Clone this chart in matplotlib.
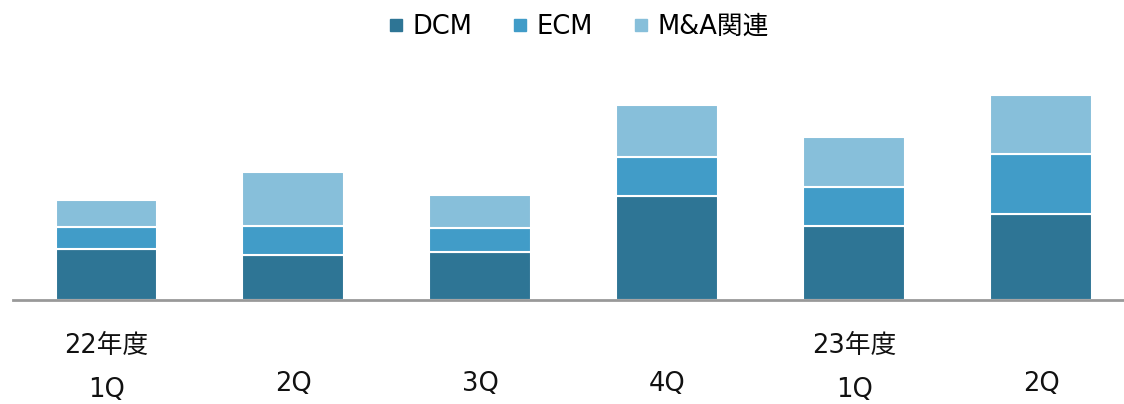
import matplotlib.pyplot as plt
from matplotlib.lines import Line2D
from matplotlib.transforms import blended_transform_factory

plt.rcParams['font.family'] = ['DejaVu Sans', 'Noto Sans CJK JP']

# data (arbitrary units)
quarters = ['1Q', '2Q', '3Q', '4Q', '1Q', '2Q']
years = ['22年度', '', '', '', '23年度', '']
dcm = [51, 45.5, 48.5, 104.5, 74.5, 86.5]
ecm = [21.7, 28.7, 24, 39, 38.7, 59.3]
mna = [27.5, 54.3, 33, 52, 50, 59.3]
series_names = ['DCM', 'ECM', 'M&A関連']
colors = ['#2E7595', '#419CC8', '#87BFDA']

fig = plt.figure(figsize=(11.24, 4.04), dpi=100)
ax = fig.add_axes([13 / 1124, 104 / 404, 1 - 13 / 1124, 240 / 404])

x = list(range(len(quarters)))
bottom = [0] * len(x)
for vals, c in zip([dcm, ecm, mna], colors):
    ax.bar(x, vals, width=0.545, bottom=bottom, color=c,
           edgecolor='white', linewidth=1.5)
    bottom = [b + v for b, v in zip(bottom, vals)]

ax.set_xlim(-0.5, 5.444)
ax.set_ylim(0, 240)
for s in ['top', 'right', 'left']:
    ax.spines[s].set_visible(False)
ax.spines['bottom'].set_color('#999999')
ax.spines['bottom'].set_linewidth(2)
ax.set_yticks([])
ax.set_xticks([])

# category labels (year + quarter)
tr = blended_transform_factory(ax.transData, fig.transFigure)
for i, (q, y) in enumerate(zip(quarters, years)):
    if y:
        ax.text(i, 1 - 346 / 404, y, transform=tr, ha='center', va='center',
                fontsize=18.5, color='#111111')
        ax.text(i, 1 - 390 / 404, q, transform=tr, ha='center', va='center',
                fontsize=18.5, color='#111111')
    else:
        ax.text(i, 1 - 384 / 404, q, transform=tr, ha='center', va='center',
                fontsize=18.5, color='#111111')

handles = [Line2D([], [], marker='s', linestyle='none', markersize=9,
                  markerfacecolor=c, markeredgecolor=c) for c in colors]
fig.legend(handles, series_names, loc='center', bbox_to_anchor=(0.514, 1 - 27 / 404),
           ncol=3, frameon=False, fontsize=18.5, handletextpad=0.3,
           columnspacing=1.5, handlelength=0.7)

fig.savefig('out.png', dpi=100)
